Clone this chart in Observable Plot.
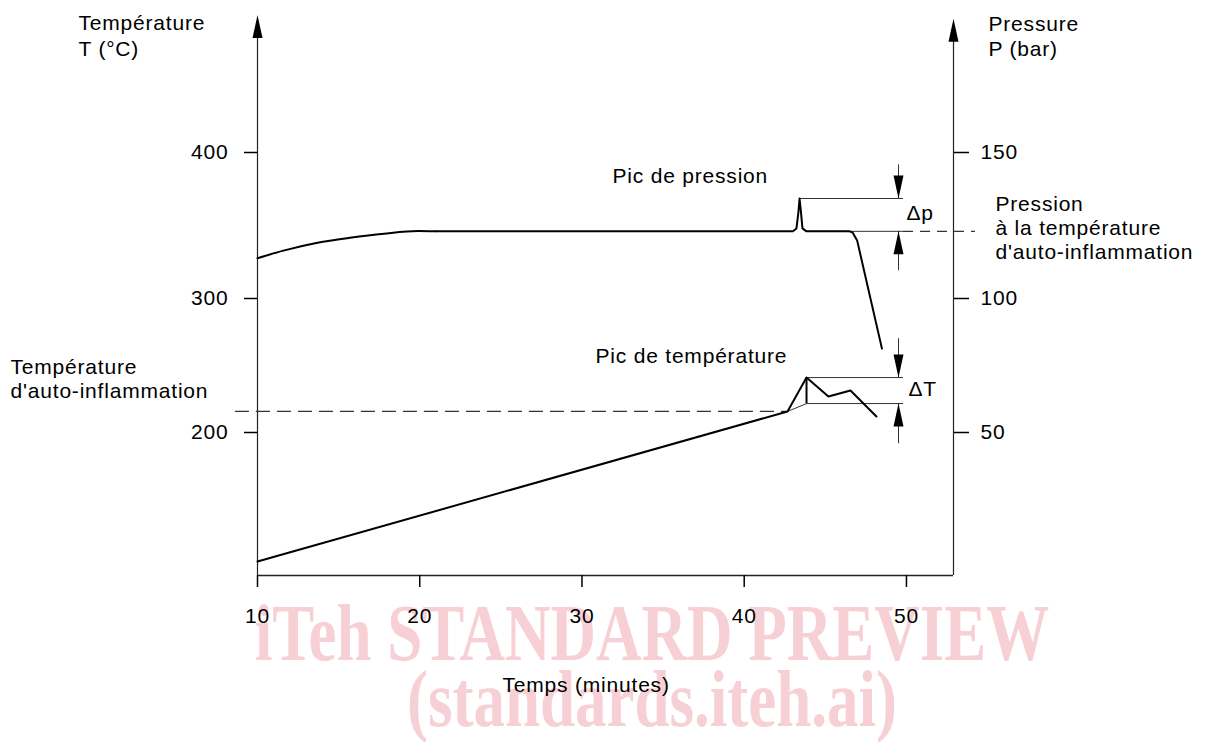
<!DOCTYPE html>
<html><head><meta charset="utf-8">
<script src="https://cdn.jsdelivr.net/npm/d3@7"></script>
<script src="https://cdn.jsdelivr.net/npm/@observablehq/plot@0.6"></script>
<style>
html,body{margin:0;padding:0;background:#fff;}
#wrap{position:relative;width:1224px;height:742px;overflow:hidden;}
.wm{position:absolute;left:40px;width:1224px;text-align:center;font:bold 63px "Liberation Serif",serif;color:#f7d0d5;line-height:1;transform:scaleY(1.28);transform-origin:0 0;white-space:nowrap;}
#chart{position:absolute;left:0;top:0;}
</style></head><body>
<div id="wrap">
<div class="wm" style="top:593px">iTeh STANDARD PREVIEW</div>
<div class="wm" style="top:659px">(standards.iteh.ai)</div>
<div id="chart"></div>
</div>
<script>
// ---- data ----
const xTicks = [10, 20, 30, 40, 50];
const tempTicks = [200, 300, 400];
const pressTicks = [50, 100, 150];

// pressure curve (minutes, bar)
const pressTime = [10, 11.6, 13.7, 15.7, 17.8, 19.9, 21, 30, 43, 43.22, 43.34, 43.41, 43.5, 43.59, 43.84, 46.5, 46.68, 46.96, 48.49];
const pressBar  = [113.8, 116.4, 119.1, 120.8, 122.2, 123.1, 123, 123, 123, 124, 129.5, 134.25, 129.5, 124, 123, 123, 122.6, 119.9, 81.3];

// temperature curve (minutes, °C)
const tempTime = [10, 42.67, 43.84, 45.19, 46.55, 48.15];
const tempC    = [103.7, 215.7, 241, 226.9, 231.3, 211.9];

// characteristic values
const tAuto = 215.7;      // auto-ignition temperature
const tPeak = 241;        // temperature peak
const tBase = 221.6;      // extrapolated baseline under the peak
const tPeakTime = 43.84;
const tAutoTime = 42.67;
const pAuto = 123;        // pressure at auto-ignition temperature
const pPeak = 134.25;     // pressure peak
const pPeakTime = 43.41;

const xMin = 10, xMax = 52.9;
const yBottom = 93.3, yTopL = 494, yTopR = 491.5, yAxisEnd = 480;

// right axis (bar) drawn on the temperature scale: T = 2·P + 100
const toT = p => 2 * p + 100;
const fromT = t => (t - 100) / 2;

const pressure = pressTime.map((t, i) => ({x: t, y: toT(pressBar[i])}));
const temperature = tempTime.map((t, i) => ({x: t, y: tempC[i]}));

const xDim = 49.51, xDimEnd = 49.82, xDashEnd = 54.25, xDashStart = 8.64;

const arrowUp = {draw(ctx) { ctx.moveTo(0, 0); ctx.lineTo(5, 23); ctx.lineTo(-5, 23); ctx.closePath(); }};

const thin = {stroke: "#333", strokeWidth: 1};

const chart = Plot.plot({
  width: 1224, height: 742,
  marginLeft: 257, marginRight: 271, marginTop: 35, marginBottom: 167,
  style: {fontFamily: '"Liberation Sans", Arial, sans-serif', fontSize: "21px", letterSpacing: "0.8px", background: "transparent", overflow: "visible"},
  x: {domain: [xMin, xMax]},
  y: {type: "linear", domain: [yBottom, 200, 300, 400, yAxisEnd], range: [575, 432, 298, 152, 35]},
  marks: [
    // axes frame lines
    Plot.ruleX([xMin], {y1: yBottom, y2: yTopL - 10, stroke: "#222", strokeWidth: 1.2}),
    Plot.ruleX([xMax], {y1: yBottom, y2: yTopR - 10, stroke: "#222", strokeWidth: 1.2}),
    Plot.ruleY([yBottom], {x1: xMin, x2: xMax, stroke: "#222", strokeWidth: 1.4}),
    Plot.dot([{x: xMin, y: yTopL}, {x: xMax, y: yTopR}], {x: "x", y: "y", symbol: arrowUp, fill: "black", stroke: "none"}),
    Plot.axisX({ticks: xTicks, anchor: "bottom", tickSize: 12, tickPadding: 21, strokeWidth: 1.5, label: null}),
    Plot.axisY({ticks: tempTicks, anchor: "left", tickSize: 13, tickPadding: 16, strokeWidth: 1.5, label: null}),
    Plot.axisY({ticks: pressTicks.map(toT), anchor: "right", tickSize: 15, tickPadding: 12, strokeWidth: 1.5, label: null, tickFormat: d => String(fromT(d))}),

    // reference lines
    Plot.ruleY([tAuto], {x1: xDashStart, x2: tAutoTime, stroke: "#333", strokeWidth: 1.2, strokeDasharray: "14,7"}),
    Plot.ruleY([toT(pAuto)], {x1: xDimEnd, x2: xDashEnd, stroke: "#333", strokeWidth: 1.2, strokeDasharray: "10,7"}),
    Plot.ruleY([toT(pPeak)], {x1: pPeakTime, x2: xDimEnd, ...thin}),
    Plot.ruleY([toT(pAuto)], {x1: tPeakTime, x2: xDimEnd, ...thin}),
    Plot.ruleY([tPeak], {x1: tPeakTime, x2: xDimEnd, ...thin}),
    Plot.ruleY([tBase], {x1: tPeakTime, x2: xDimEnd, ...thin}),
    Plot.line([{x: tAutoTime, y: tAuto}, {x: tPeakTime, y: tBase}], {x: "x", y: "y", ...thin}),

    // dimension lines with arrows
    Plot.ruleX([xDim], {y1: toT(pPeak) + 23, y2: toT(pPeak), ...thin}),
    Plot.ruleX([xDim], {y1: toT(pAuto), y2: toT(pAuto) - 27, ...thin}),
    Plot.ruleX([xDim], {y1: tPeak + 29, y2: tPeak, ...thin}),
    Plot.ruleX([xDim], {y1: tBase, y2: tBase - 30, ...thin}),
    Plot.dot([{y: toT(pPeak), r: 180}, {y: toT(pAuto), r: 0}, {y: tPeak, r: 180}, {y: tBase, r: 0}],
      {x: () => xDim, y: "y", rotate: "r", symbol: arrowUp, fill: "black", stroke: "none"}),

    // curves
    Plot.line(pressure.filter(d => d.x <= 21), {x: "x", y: "y", curve: "monotone-x", stroke: "black", strokeWidth: 2}),
    Plot.line(pressure.filter(d => d.x >= 21), {x: "x", y: "y", curve: "linear", stroke: "black", strokeWidth: 2, strokeLinejoin: "round"}),
    Plot.line(temperature, {x: "x", y: "y", stroke: "black", strokeWidth: 2}),
    Plot.ruleX([tPeakTime], {y1: tBase, y2: tPeak, stroke: "black", strokeWidth: 2}),

    // annotations inside the plot
    Plot.text(["Pic de pression"], {x: () => 31.88, y: () => 378.8, text: d => d, textAnchor: "start", lineAnchor: "bottom", fill: "black"}),
    Plot.text(["Pic de température"], {x: () => 30.83, y: () => 251.8, text: d => d, textAnchor: "start", lineAnchor: "bottom", fill: "black"}),
    Plot.text(["Δp"], {x: () => 50.0, y: () => toT(pAuto) + 7.5, text: d => d, textAnchor: "start", lineAnchor: "bottom", fill: "black"}),
    Plot.text(["ΔT"], {x: () => 50.12, y: () => 227.6, text: d => d, textAnchor: "start", lineAnchor: "bottom", fill: "black"}),

    // titles & labels around the frame
    Plot.text(["Température"], {frameAnchor: "top-left", dx: -179, dy: -6, textAnchor: "start", lineAnchor: "bottom"}),
    Plot.text(["T (°C)"], {frameAnchor: "top-left", dx: -179, dy: 20, textAnchor: "start", lineAnchor: "bottom"}),
    Plot.text(["Pressure"], {frameAnchor: "top-right", dx: 35, dy: -5, textAnchor: "start", lineAnchor: "bottom"}),
    Plot.text(["P (bar)"], {frameAnchor: "top-right", dx: 35, dy: 20, textAnchor: "start", lineAnchor: "bottom"}),
    Plot.text(["Pression"], {frameAnchor: "top-right", dx: 42, dy: 175, textAnchor: "start", lineAnchor: "bottom"}),
    Plot.text(["à la température"], {frameAnchor: "top-right", dx: 42, dy: 199, textAnchor: "start", lineAnchor: "bottom"}),
    Plot.text(["d'auto-inflammation"], {frameAnchor: "top-right", dx: 42, dy: 223, textAnchor: "start", lineAnchor: "bottom"}),
    Plot.text(["Température"], {frameAnchor: "top-left", dx: -247, dy: 338, textAnchor: "start", lineAnchor: "bottom"}),
    Plot.text(["d'auto-inflammation"], {frameAnchor: "top-left", dx: -247, dy: 362, textAnchor: "start", lineAnchor: "bottom"}),
    Plot.text(["Temps (minutes)"], {frameAnchor: "bottom-left", dx: 245, dy: 116, textAnchor: "start", lineAnchor: "bottom"})
  ]
});
document.getElementById("chart").appendChild(chart);
</script>
</body></html>
